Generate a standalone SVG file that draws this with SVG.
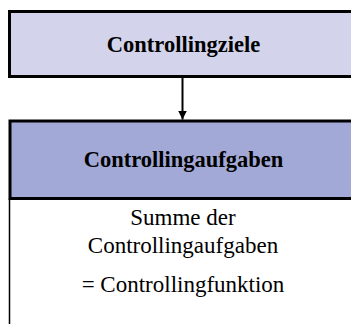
<svg xmlns="http://www.w3.org/2000/svg" width="351" height="324" viewBox="0 0 351 324">
  <style>
    .title { font-family: "Liberation Serif", "Times New Roman", serif; font-weight: bold; font-size: 22.5px; fill: #000; text-anchor: middle; }
    .body { font-family: "Liberation Serif", "Times New Roman", serif; font-size: 23px; fill: #000; text-anchor: middle; }
    .edge { stroke: #000; stroke-width: 2; fill: none; }
  </style>
  <defs>
    <marker id="arrow" viewBox="0 0 10 10" refX="10" refY="5" markerWidth="4.5" markerHeight="4.5" orient="auto" markerUnits="strokeWidth">
      <path d="M0,0 L10,5 L0,10 Z" fill="#000"/>
    </marker>
  </defs>

  <rect width="351" height="324" fill="#fff"/>

  <!-- Goals box -->
  <g id="controllingziele">
    <rect x="9.5" y="11.5" width="400" height="65" fill="#d3d4ec" stroke="#000" stroke-width="3"/>
    <text class="title" x="183.5" y="52">Controllingziele</text>
  </g>

  <!-- Tasks box: shaded header over a white body -->
  <g id="controllingaufgaben">
    <rect x="9.5" y="199" width="400" height="200" fill="#fff" stroke="#000" stroke-width="1.5"/>
    <rect x="10" y="121" width="400" height="77.5" fill="#a3a9d6" stroke="#000" stroke-width="3"/>
    <text class="title" x="183.5" y="167">Controllingaufgaben</text>
    <text class="body" x="183" y="225">Summe der</text>
    <text class="body" x="183" y="253">Controllingaufgaben</text>
    <text class="body" x="183" y="292">= Controllingfunktion</text>
  </g>

  <!-- Connectors -->
  <g id="connectors">
    <line class="edge" x1="182.5" y1="78" x2="182.5" y2="119.5" marker-end="url(#arrow)"/>
  </g>
</svg>
